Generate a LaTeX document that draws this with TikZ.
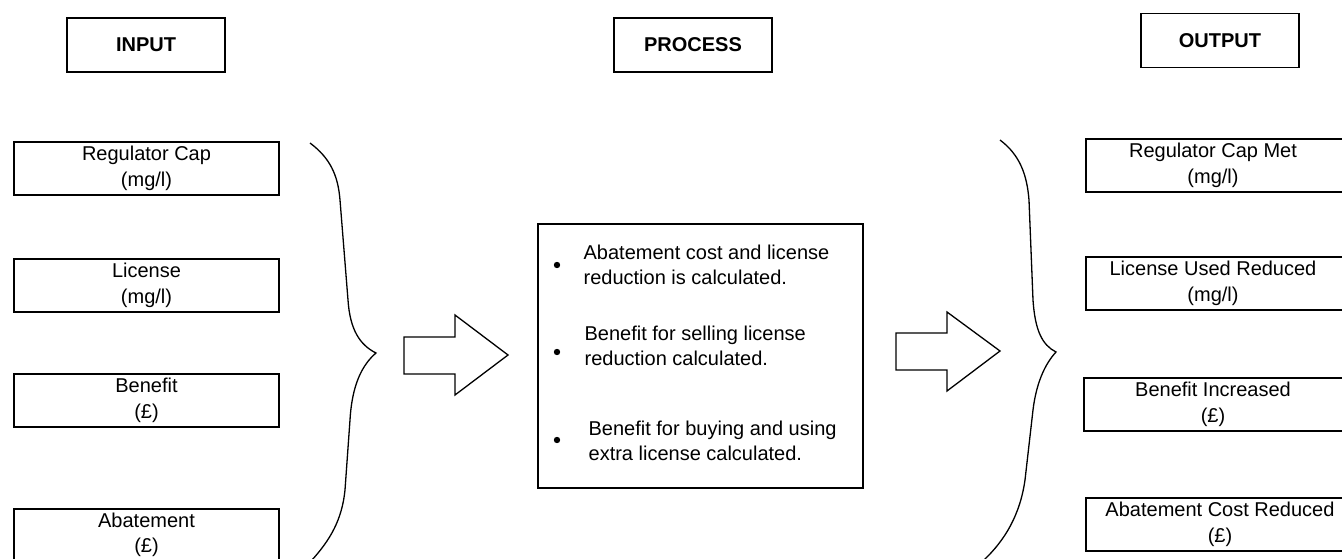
\documentclass[tikz,border=0pt]{standalone}
\usepackage{fontspec}
\setmainfont{Liberation Sans}
\begin{document}
\begin{tikzpicture}[x=1pt,y=-1pt,line width=1.25pt,
  txt/.style={font=\fontsize{20}{25.5}\selectfont, align=center, inner sep=0pt},
  inbox/.style={txt, draw, minimum width=265pt, minimum height=53pt},
  hdr/.style={draw, inner sep=0pt, minimum width=158pt, minimum height=54pt, font=\bfseries\fontsize{20}{24}\selectfont},
  bul/.style={font=\fontsize{20}{24.5}\selectfont, align=left, inner sep=0pt, anchor=west},
  shapeline/.style={line width=1.3pt, line join=miter}]
\clip (0,0) rectangle (1342,559);
\useasboundingbox (0,0) rectangle (1342,559);

% headers
\node[hdr] (hin) at (146,45) {INPUT};
\node[hdr] (hproc) at (693,45) {PROCESS};
\node[hdr] (hout) at (1220,40.5) {OUTPUT};

% input boxes
\node[inbox] (reg) at (146.5,168.5) {Regulator Cap\\(mg/l)};
\node[inbox] (lic) at (146.5,285.5) {License\\(mg/l)};
\node[inbox] (ben) at (146.5,400.5) {Benefit\\(\pounds)};
\draw (14,565) -- (14,509) -- (279,509) -- (279,565);
\node[txt] (aba) at (146.5,535) {Abatement\\(\pounds)};

% left brace
\draw[shapeline] (310,143) .. controls (330,158) and (338,175) .. (340,200)
  -- (348,300) .. controls (350,330) and (360,345) .. (376,353)
  .. controls (362,365) and (352,385) .. (350,420)
  -- (345,490) .. controls (342,520) and (330,540) .. (312,560);

% arrow 1
\draw[shapeline] (404,337) -- (455,337) -- (455,315) -- (508,355) -- (455,395) -- (455,374) -- (404,374) -- cycle;

% process box
\node[draw, minimum width=325pt, minimum height=264pt, inner sep=0pt] (proc) at (700.5,356) {};
\fill (557,265) circle (3.2pt);
\fill (557,352) circle (3.2pt);
\fill (557,440) circle (3.2pt);
\node[bul] (p1) at (583,265) {Abatement cost and license\\reduction is calculated.};
\node[bul] (p2) at (584,346) {Benefit for selling license\\reduction calculated.};
\node[bul] (p3) at (588,441) {Benefit for buying and using\\extra license calculated.};

% arrow 2
\draw[shapeline] (896,333) -- (947,333) -- (947,312) -- (1000,351) -- (947,391) -- (947,370) -- (896,370) -- cycle;

% right brace
\draw[shapeline] (1000,140) .. controls (1020,155) and (1027,175) .. (1029,200)
  -- (1033,300) .. controls (1035,330) and (1042,345) .. (1056,352)
  .. controls (1044,365) and (1036,385) .. (1033,410)
  -- (1025,480) .. controls (1020,515) and (1005,540) .. (984,560);

% output boxes
\draw (1350,139) -- (1086,139) -- (1086,192) -- (1350,192);
\node[txt] (o1) at (1213,165.5) {Regulator Cap Met\\(mg/l)};
\draw (1350,257) -- (1086,257) -- (1086,310) -- (1350,310);
\node[txt] (o2) at (1213,283.5) {License Used Reduced\\(mg/l)};
\draw (1350,378) -- (1084,378) -- (1084,431) -- (1350,431);
\node[txt] (o3) at (1213,404.5) {Benefit Increased\\(\pounds)};
\draw (1350,498) -- (1086,498) -- (1086,551) -- (1350,551);
\node[txt] (o4) at (1220,524.5) {Abatement Cost Reduced\\(\pounds)};
\end{tikzpicture}
\end{document}
